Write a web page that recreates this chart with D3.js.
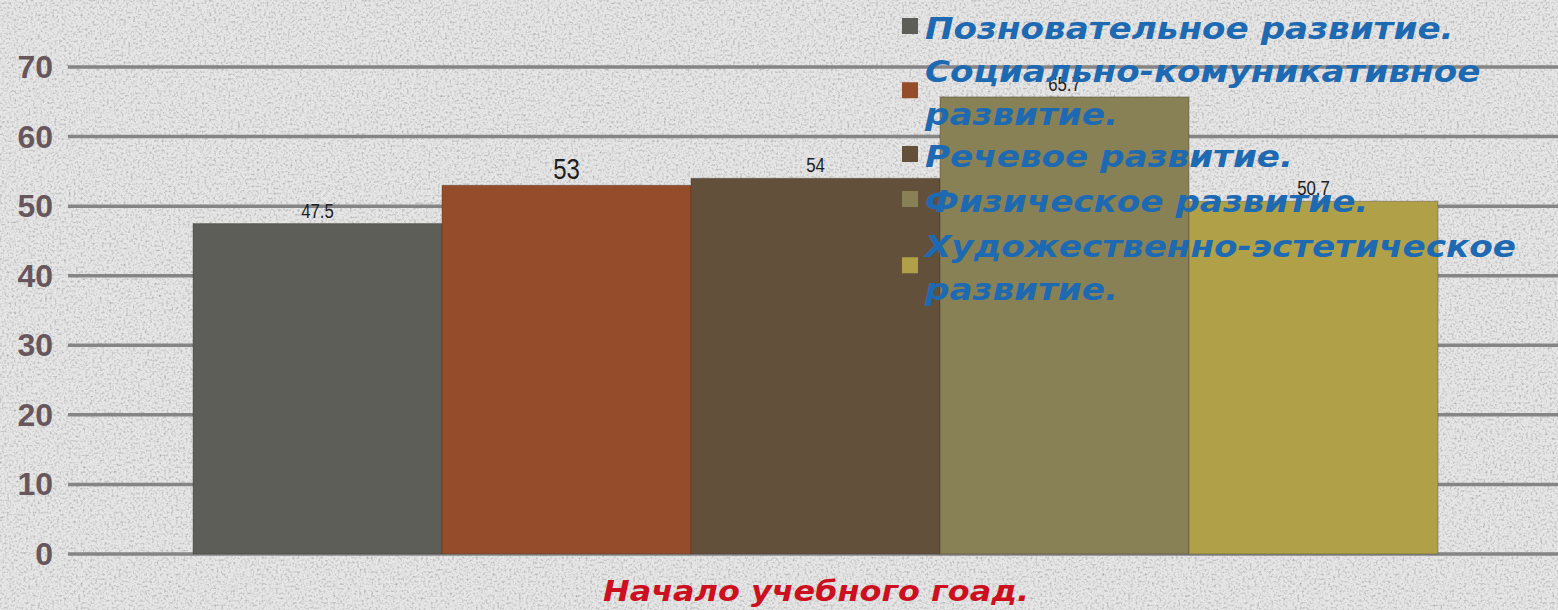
<!DOCTYPE html>
<html>
<head>
<meta charset="utf-8">
<script src="https://cdn.jsdelivr.net/npm/d3@7"></script>
<style>
  html, body { margin: 0; padding: 0; background: #dadada; overflow: hidden; }
</style>
</head>
<body>
<div class="chart"></div>
<script>
// Data
var categories = ["Позновательное развитие.", "Социально-комуникативное развитие.", "Речевое развитие.", "Физическое развитие.", "Художественно-эстетическое развитие."];
var values = [47.5, 53, 54, 65.7, 50.7];
var valueLabels = ["47.5", "53", "54", "65.7", "50.7"];
var legendLines = [["Позновательное развитие."], ["Социально-комуникативное", "развитие."], ["Речевое развитие."], ["Физическое развитие."], ["Художественно-эстетическое", "развитие."]];
var yTicks = [0, 10, 20, 30, 40, 50, 60, 70];
var axisTitle = "Начало учебного гоад.";
var colors = ["#5e5e59", "#944c2a", "#62503a", "#878155", "#b0a149"];

var svgWidth = 1558, svgHeight = 610;
var svg = d3.select(".chart").append("svg")
    .attr("width", svgWidth)
    .attr("height", svgHeight);

// canvas-like texture
var defs = svg.append("defs");
var filt = defs.append("filter").attr("id", "tex").attr("x", 0).attr("y", 0).attr("width", "100%").attr("height", "100%");
filt.append("feTurbulence").attr("type", "fractalNoise").attr("baseFrequency", 0.42).attr("numOctaves", 2).attr("seed", 5).attr("result", "n");
filt.append("feColorMatrix").attr("in", "n").attr("type", "matrix")
    .attr("values", "1.8 0 0 0 0  1.8 0 0 0 0  1.8 0 0 0 0  0 0 0 0 1");
svg.append("rect").attr("width", svgWidth).attr("height", svgHeight).attr("fill", "#d2d2d2");
svg.append("rect").attr("width", svgWidth).attr("height", svgHeight).attr("filter", "url(#tex)").attr("opacity", 0.45);

// Scales
var y = d3.scaleLinear().domain([0, 70]).range([554, 67]);
var x = d3.scaleBand().domain(categories).range([193, 1438]).padding(0);

// Gridlines
svg.append("g").selectAll("line")
    .data(yTicks).enter().append("line")
    .attr("x1", 68).attr("x2", svgWidth)
    .attr("y1", d => y(d)).attr("y2", d => y(d))
    .attr("stroke", "#858585").attr("stroke-width", 3.5);

// Y axis labels
svg.append("g").selectAll("text")
    .data(yTicks).enter().append("text")
    .attr("x", 53).attr("y", d => y(d) + 11)
    .attr("text-anchor", "end")
    .style("font-family", "'Liberation Sans', Arial, sans-serif")
    .style("font-weight", "bold")
    .style("font-size", "32px")
    .style("fill", "#68565d")
    .text(d => d);

// Bars
svg.append("g").selectAll("rect")
    .data(values).enter().append("rect")
    .attr("x", (d, i) => x(categories[i]))
    .attr("y", d => y(d))
    .attr("width", x.bandwidth())
    .attr("height", d => y(0) - y(d))
    .attr("fill", (d, i) => colors[i])
    .attr("stroke", "rgba(60,50,40,0.35)")
    .attr("stroke-width", 1);

// Value labels
var labelSizes = [21, 30, 21, 21, 21];
svg.append("g").selectAll("text")
    .data(values).enter().append("text")
    .attr("transform", (d, i) => "translate(" + (x(categories[i]) + x.bandwidth() / 2) + "," + (y(d) - 6) + ") scale(0.8,1)")
    .attr("text-anchor", "middle")
    .style("font-family", "'Liberation Sans', Arial, sans-serif")
    .style("font-size", (d, i) => labelSizes[i] + "px")
    .style("fill", "#1e1e1e")
    .text((d, i) => valueLabels[i]);

// Legend
var legendTop = [39, 82, 167, 212, 257];
var lineGap = 42.5;
var legend = svg.append("g");
legendLines.forEach(function(lines, i) {
    var base = legendTop[i];
    var mid = base - 13 + (lines.length - 1) * lineGap / 2;
    legend.append("rect")
        .attr("x", 902).attr("y", mid - 8)
        .attr("width", 16).attr("height", 16)
        .attr("fill", colors[i]);
    lines.forEach(function(t, j) {
        legend.append("text")
            .attr("transform", "translate(925," + (base + j * lineGap) + ") scale(1.14,1)")
            .style("font-family", "'DejaVu Sans', Verdana, sans-serif")
            .style("font-weight", "bold")
            .style("font-style", "italic")
            .style("font-size", "30px")
            .style("fill", "#1e6ab2")
            .text(t);
    });
});

// Category axis title
svg.append("text")
    .attr("transform", "translate(816,601) scale(1.1,1)")
    .attr("text-anchor", "middle")
    .style("font-family", "'DejaVu Sans', Verdana, sans-serif")
    .style("font-weight", "bold")
    .style("font-style", "italic")
    .style("font-size", "29px")
    .style("fill", "#cc1020")
    .text(axisTitle);
</script>
</body>
</html>
